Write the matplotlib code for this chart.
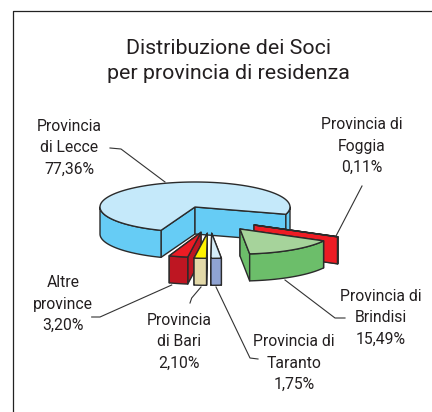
import numpy as np
import matplotlib
matplotlib.use('Agg')
import matplotlib.pyplot as plt

plt.rcParams['font.family'] = ['Roboto', 'DejaVu Sans']

# clockwise from the first cut, Lecce last
names = ['Provincia di\nFoggia', 'Provincia di\nBrindisi', 'Provincia di\nTaranto',
         'Provincia\ndi Bari', 'Altre\nprovince', 'Provincia\ndi Lecce']
shares = [0.11, 15.49, 1.75, 2.10, 3.20, 77.36]

top_colors = ['#ED1C24', '#A6D39B', '#D6EEFA', '#FFF200', '#ED1C24', '#C5E9FA']
wall_colors = ['#ED1C24', '#6CBE6A', '#8FA3D3', '#E3D9A8', '#BE1622', '#66CCF5']

# where each slice's tip sits, in pixels (exploded pie)
tips = [(254, 225), (240, 229), (211.7, 233.3), (207.3, 233.3), (201, 232.3), (195, 207)]
label_pos = [(362, 146), (381, 318), (294, 363), (179, 342), (63, 304), (69, 148)]
leaders = [
    [(336, 236), (362, 186)],
    [(285, 280), (335, 318), (345, 318)],
    [(216, 287), (250, 358), (258, 359)],
    [(201, 287), (191.7, 298), (190, 303)],
    [(171.7, 285), (100, 317), (91.7, 317)],
    [(110, 148), (121, 149), (165, 182)],
]
# painting order of the exploded slices
order = [0, 1, 4, 3, 2]

rx, ry, depth = 95, 25, 27
start = 28.0
lecce_skip = 1.4   # Lecce cut starts a little after Altre
lecce_open = 12.5  # the original drawing leaves the big slice a bit short
edge = '#2b2b2b'
lw = 1.0


def point(tip, t):
    a = np.radians(t)
    return tip[0] + rx * np.cos(a), tip[1] + ry * np.sin(a)


def draw_slice(ax, tip, t0, t1, top, wall, z):
    corner0 = point(tip, t0)
    corner1 = point(tip, t1)
    mid = (t0 + t1) / 2 % 360

    def cut(c):
        xs = [tip[0], c[0], c[0], tip[0]]
        ys = [tip[1], c[1], c[1] + depth, tip[1] + depth]
        ax.fill(xs, ys, fc=wall, ec=edge, lw=lw, zorder=z, joinstyle='round')

    if mid > 90 and t1 - t0 < 180:
        cut(corner1)
        cut(corner0)
    else:
        cut(corner0)
        cut(corner1)

    # outer wall, only the front half of the rim shows
    for lo, hi in [(0, 180), (360, 540)]:
        a = max(t0, lo)
        b = min(t1, hi)
        if b <= a:
            continue
        ts = np.linspace(a, b, 60)
        xs, ys = point(tip, ts)
        ax.fill(np.r_[xs, xs[::-1]], np.r_[ys, ys[::-1] + depth],
                fc=wall, ec=edge, lw=lw, zorder=z, joinstyle='round')

    ts = np.linspace(t0, t1, 200)
    xs, ys = point(tip, ts)
    ax.fill(np.r_[tip[0], xs], np.r_[tip[1], ys], fc=top, ec=edge, lw=lw,
            zorder=z, joinstyle='round')


fig = plt.figure(figsize=(4.32, 4.12), dpi=100)
ax = fig.add_axes([0, 0, 1, 1])
ax.set_xlim(0, 432)
ax.set_ylim(412, 0)
ax.axis('off')

# page frame
ax.plot([12.5, 12.5, 432], [412, 11, 11], color='#222222', lw=0.9, zorder=1)

angles = np.cumsum([0] + [s * 3.6 for s in shares[:-1]]) + start
lecce_t0 = angles[-1] + lecce_skip
draw_slice(ax, tips[-1], lecce_t0, lecce_t0 + shares[-1] * 3.6 - lecce_open,
           top_colors[-1], wall_colors[-1], 2)
for z, i in enumerate(order):
    draw_slice(ax, tips[i], angles[i], angles[i] + shares[i] * 3.6,
               top_colors[i], wall_colors[i], 3 + z)

for pts in leaders:
    xs, ys = zip(*pts)
    ax.plot(xs, ys, color='#333333', lw=0.8, zorder=10)

for name, val, pos in zip(names, shares, label_pos):
    txt = name + '\n' + f'{val:.2f}%'.replace('.', ',')
    ax.text(pos[0], pos[1], txt, ha='center', va='center', fontsize=11.3,
            linespacing=1.53, color='#231F20', zorder=11)

ax.text(228, 61, 'Distribuzione dei Soci\nper provincia di residenza', ha='center',
        va='center', fontsize=15.4, linespacing=1.39, color='#231F20')

fig.savefig('out.png', dpi=100)
